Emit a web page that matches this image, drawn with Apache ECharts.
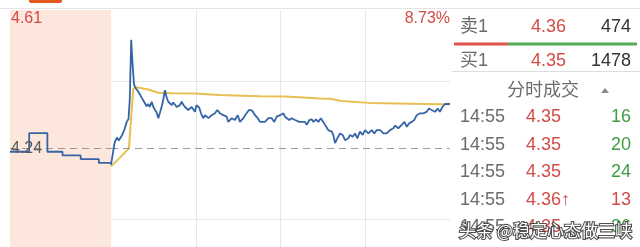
<!DOCTYPE html>
<html><head><meta charset="utf-8">
<script src="https://cdn.jsdelivr.net/npm/echarts@6/dist/echarts.min.js"></script>
<style>html,body{margin:0;padding:0;background:#fff}#c{width:640px;height:247px}</style>
</head><body><div id="c"></div>
<script>
// ---- data ----
const preClose = 4.24;
const priceMax = 4.61;
const priceMin = 3.9746;   // visible bottom of the (cropped) price panel
const gridLevels = [4.055, 4.425];
const preMarketMinutes = [0, 1.9, 3.7, 5.2, 7.0, 8.8, 10];
const preMarketPrices  = [4.23, 4.28, 4.23, 4.22, 4.21, 4.20, 4.20];
const tradeMinutes = [0,2.6,4.2,5.5,7.5,9.4,11.1,12.4,13.3,14.3,15.2,16.3,17.5,18.5,19.5,20.6,21.7,22.8,24.1,25.2,26.4,27.5,28.8,30,31.2,32.3,33.5,34.7,35.9,37,38.2,39.4,40.6,41.8,43,44.1,45.3,46.5,47.6,48.8,50,51.2,52.4,53.5,54.7,55.9,57.1,58.3,59.5,60.5,61.4,62.5,63.7,65.3,66.6,67.8,69,70.2,71.3,72.5,73.6,75.3,76.3,77.2,78.4,79.5,80.7,81.9,83,84.2,85.5,86.6,87.8,89.7,91.3,92.5,93.7,94.9,96.1,97.7,98.9,100,101,102,103.9,105.5,107.2,109,110.2,111.4,112.6,113.8,115.6,117.3,118.5,119.7,121,122,123.2,124.4,126.2,127.9,129.1,130.3,131.5,133.3,135,137.3,138.6,140.4,142.1,143.3,145.1,146.8,148.5,150.3,151.5,152.7,153.8,155,156.3,157.4,158.6,160.2,161.2,162.1,164,165.7,166.8,168,169.2,171.1,172.8,174.4,175.3,176.3,178.2,179.8,181,182.2,183.4,184.6,186.4,188.1,189.3,190.5,192.9,194,195.2,196.4,197.5,199.9,201.2,202.3,203.4,205.8,207.7,209.4,211,212.9,214.7,216.4,217.6,218.8,221.1,222.3,223.5,225.1,227,229.4,230.3,231.3,232.9,234.6,236.5,238,240];
const tradePrices = [4.195,4.255,4.268,4.26,4.272,4.288,4.31,4.318,4.37,4.53,4.47,4.41,4.40,4.405,4.39,4.385,4.375,4.368,4.364,4.352,4.358,4.35,4.364,4.35,4.342,4.335,4.32,4.335,4.351,4.37,4.395,4.375,4.364,4.36,4.355,4.362,4.36,4.35,4.346,4.355,4.364,4.356,4.35,4.355,4.342,4.346,4.35,4.345,4.337,4.355,4.36,4.348,4.333,4.32,4.328,4.328,4.32,4.324,4.328,4.328,4.333,4.342,4.337,4.333,4.333,4.328,4.328,4.324,4.31,4.315,4.32,4.318,4.315,4.328,4.31,4.315,4.32,4.328,4.333,4.342,4.342,4.34,4.335,4.328,4.32,4.31,4.31,4.31,4.315,4.32,4.32,4.32,4.31,4.324,4.328,4.328,4.333,4.333,4.324,4.328,4.315,4.32,4.318,4.315,4.31,4.31,4.31,4.31,4.302,4.315,4.317,4.31,4.317,4.31,4.32,4.31,4.302,4.295,4.288,4.285,4.284,4.275,4.253,4.266,4.272,4.279,4.275,4.261,4.264,4.266,4.275,4.27,4.279,4.266,4.275,4.284,4.275,4.288,4.284,4.279,4.284,4.288,4.279,4.288,4.288,4.288,4.279,4.279,4.279,4.284,4.288,4.293,4.3,4.302,4.293,4.302,4.31,4.297,4.306,4.31,4.315,4.328,4.33,4.333,4.333,4.335,4.337,4.346,4.342,4.337,4.342,4.346,4.337,4.35,4.358,4.358,4.358];
const avgMinutes = [0, 12.7, 15.8, 18, 26.4, 33.5, 43, 59.5, 77, 105.5, 123, 148.5, 155, 163, 183, 233, 240];
const avgPrices  = [4.19, 4.239, 4.40, 4.403, 4.397, 4.388, 4.387, 4.386, 4.382, 4.379, 4.378, 4.373, 4.372, 4.366, 4.361, 4.357, 4.357];
const axisTexts = ['4.61', '4.24', '8.73%'];
const bookLabels = ['卖1', '买1'];
const bookPrices = ['4.36', '4.35'];
const bookVolumes = ['474', '1478'];
const tickHeader = '分时成交';
const tickTimes = ['14:55', '14:55', '14:55', '14:55', '14:55'];
const tickPrices = ['4.35', '4.35', '4.35', '4.36↑', '4.35'];
const tickVolumes = ['16', '20', '24', '13', '36'];
const tickUp = [false, false, false, true, false];
const watermark = '头条 @稳定心态做三峡';

// ---- chart ----
const RED = '#d24b46', GREEN = '#3f9d44', GRAY = '#6b6b6b', DARK = '#333';
const FONT = '"Liberation Sans","Noto Sans CJK SC",sans-serif';
const zip = (a, b) => a.map((v, i) => [v, b[i]]);
const chart = echarts.init(document.getElementById('c'), null, {renderer: 'canvas'});

const txt = (x, y, text, color, size, align) => ({
  type: 'text', x: x, y: y, silent: true, z: 100,
  style: {text: text, fill: color, font: size + 'px ' + FONT, align: align || 'left', verticalAlign: 'middle'}
});

const graphics = [
  {type: 'line', shape: {x1: 0, y1: 8.5, x2: 640, y2: 8.5}, style: {stroke: '#e3e3e3', lineWidth: 1}, silent: true},
  {type: 'rect', shape: {x: 29, y: -4, width: 33, height: 7, r: 2}, style: {fill: '#e4581f'}, silent: true},
  txt(11, 19, axisTexts[0], RED, 16),
  txt(11, 148.5, axisTexts[1], '#5a5a5a', 16),
  txt(450, 19, axisTexts[2], RED, 16, 'right'),
  {type: 'rect', shape: {x: 454, y: 42.5, width: 54, height: 3}, style: {fill: '#e0524c'}, silent: true},
  {type: 'rect', shape: {x: 508, y: 42.5, width: 129, height: 3}, style: {fill: '#52ad55'}, silent: true},
  {type: 'line', shape: {x1: 452, y1: 71.5, x2: 640, y2: 71.5}, style: {stroke: '#dedede', lineWidth: 1}, silent: true},
  txt(507, 91, tickHeader, GRAY, 18),
  {type: 'polygon', shape: {points: [[601, 93], [609, 93], [605, 88]]}, style: {fill: '#8a8a8a'}, silent: true}
];
const bookY = [27.5, 61];
bookLabels.forEach((l, i) => {
  graphics.push(txt(460, bookY[i], l, GRAY, 18));
  graphics.push(txt(531, bookY[i], bookPrices[i], RED, 18));
  graphics.push(txt(631, bookY[i], bookVolumes[i], DARK, 18, 'right'));
});
const rowY = [117.5, 145, 172.5, 200, 227.5];
tickTimes.forEach((t, i) => {
  graphics.push(txt(460, rowY[i], t, GRAY, 18));
  graphics.push(txt(526, rowY[i], tickPrices[i], RED, 18));
  graphics.push(txt(631, rowY[i], tickVolumes[i], tickUp[i] ? RED : GREEN, 18, 'right'));
});
graphics.push({
  type: 'text', x: 459, y: 231, silent: true, z: 200,
  style: {text: watermark, fill: '#ffffff', stroke: 'rgba(50,50,50,0.85)', lineWidth: 2.2,
          font: '17px "Noto Sans CJK SC",sans-serif', align: 'left', verticalAlign: 'middle'}
});

const option = {
  animation: false,
  backgroundColor: '#fff',
  grid: [
    {left: 10, top: 10, width: 101, bottom: 0, show: true, backgroundColor: '#fde6dc', borderWidth: 0},
    {left: 111, top: 10, width: 339, bottom: 0, show: false}
  ],
  xAxis: [
    {type: 'value', gridIndex: 0, min: 0, max: 10, show: false},
    {type: 'value', gridIndex: 1, min: 0, max: 240, interval: 60,
     axisLine: {show: false}, axisTick: {show: false}, axisLabel: {show: false},
     splitLine: {show: true, showMinLine: false, showMaxLine: false, lineStyle: {color: '#e6e6e6', width: 1}}}
  ],
  yAxis: [
    {type: 'value', gridIndex: 0, min: priceMin, max: priceMax, show: false, splitLine: {show: false}},
    {type: 'value', gridIndex: 1, min: priceMin, max: priceMax, show: false, splitLine: {show: false}}
  ],
  series: [
    {type: 'line', xAxisIndex: 0, yAxisIndex: 0, data: zip(preMarketMinutes, preMarketPrices), step: 'end',
     showSymbol: false, lineStyle: {color: '#3565a6', width: 1.8}, z: 5,
     markLine: {silent: true, symbol: 'none', label: {show: false},
       lineStyle: {color: '#9a9a9a', type: [7, 5], width: 1}, data: [{yAxis: preClose}]}},
    {type: 'line', xAxisIndex: 1, yAxisIndex: 1, data: zip(tradeMinutes, tradePrices),
     showSymbol: false, lineStyle: {color: '#3565a6', width: 1.8}, z: 5,
     markLine: {silent: true, symbol: 'none', label: {show: false},
       data: [
         {yAxis: gridLevels[0], lineStyle: {color: '#e6e6e6', type: 'solid', width: 1}},
         {yAxis: gridLevels[1], lineStyle: {color: '#e6e6e6', type: 'solid', width: 1}},
         {yAxis: preClose, lineStyle: {color: '#9a9a9a', type: [7, 5], width: 1}}
       ]}},
    {type: 'line', xAxisIndex: 1, yAxisIndex: 1, data: zip(avgMinutes, avgPrices),
     showSymbol: false, lineStyle: {color: '#e8bf52', width: 2}, z: 4}
  ],
  graphic: graphics
};
chart.setOption(option);
</script></body></html>
